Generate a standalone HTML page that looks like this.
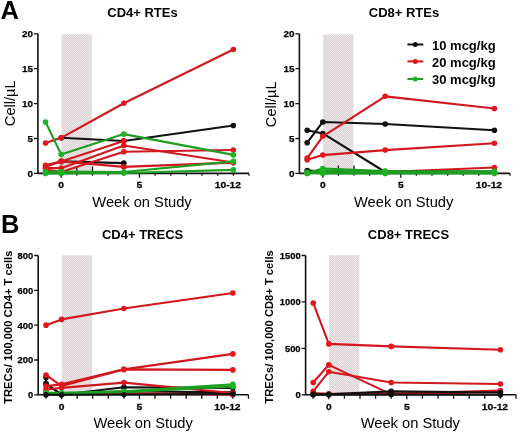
<!DOCTYPE html><html><head><meta charset="utf-8"><style>html,body{margin:0;padding:0;background:#fff;}svg{display:block;will-change:transform;}</style></head><body>
<svg width="520" height="434" viewBox="0 0 520 434" font-family='"Liberation Sans", sans-serif'>
<style>polyline{fill:none;stroke-width:2.1;stroke-linejoin:round}.r{stroke:#d0181e;marker:url(#mr)}.g{stroke:#1c9f20;marker:url(#mg)}.k{stroke:#111111;marker:url(#mk)}.yt,.xt{font-weight:bold;stroke:#000;stroke-width:.25px}.yt{text-anchor:end}.xt{text-anchor:middle;font-size:9.9px}</style>
<defs><marker id="mr" markerUnits="userSpaceOnUse" viewBox="-3 -3 6 6" refX="0" refY="0" markerWidth="6" markerHeight="6" overflow="visible"><circle r="2.8" fill="#e3161d"/></marker><marker id="mg" markerUnits="userSpaceOnUse" viewBox="-3 -3 6 6" refX="0" refY="0" markerWidth="6" markerHeight="6" overflow="visible"><circle r="2.8" fill="#1db322"/></marker><marker id="mk" markerUnits="userSpaceOnUse" viewBox="-3 -3 6 6" refX="0" refY="0" markerWidth="6" markerHeight="6" overflow="visible"><circle r="2.8" fill="#111111"/></marker></defs>
<defs><pattern id="chk" width="2" height="2" patternUnits="userSpaceOnUse"><rect width="2" height="2" fill="#dcd3d5"/><rect width="1" height="1" fill="#ebe6e7"/><rect x="1" y="1" width="1" height="1" fill="#ebe6e7"/></pattern></defs>
<rect width="520" height="434" fill="#fff"/>
<text x="0.5" y="18.8" font-size="25.5" font-weight="bold">A</text>
<text x="1" y="232.8" font-size="25.5" font-weight="bold">B</text>
<text x="142.5" y="17" text-anchor="middle" font-size="13" font-weight="bold">CD4+ RTEs</text>
<text x="404" y="17.3" text-anchor="middle" font-size="13" font-weight="bold">CD8+ RTEs</text>
<text x="142.6" y="238.7" text-anchor="middle" font-size="13" font-weight="bold">CD4+ TRECS</text>
<text x="408.5" y="238.5" text-anchor="middle" font-size="13" font-weight="bold">CD8+ TRECS</text>
<text x="142" y="207" text-anchor="middle" font-size="14.7">Week on Study</text>
<text x="403.7" y="207" text-anchor="middle" font-size="14.7">Week on Study</text>
<text x="143.2" y="427.6" text-anchor="middle" font-size="14.7">Week on Study</text>
<text x="410.3" y="427.5" text-anchor="middle" font-size="14.7">Week on Study</text>
<text transform="translate(14.6,103.3) rotate(-90)" text-anchor="middle" font-size="14.6">Cell/µL</text>
<text transform="translate(276.3,104.3) rotate(-90)" text-anchor="middle" font-size="14.6">Cell/µL</text>
<text transform="translate(12,327.2) rotate(-90)" text-anchor="middle" font-size="11.2" font-weight="bold">TRECs/ 100,000 CD4+ T cells</text>
<text transform="translate(273,326.9) rotate(-90)" text-anchor="middle" font-size="11.2" font-weight="bold">TRECs/ 100,000 CD8+ T cells</text>
<rect x="61.5" y="34.2" width="30.4" height="139.2" fill="url(#chk)"/>
<path d="M37.9,33.8V173.4H249" fill="none" stroke="#111" stroke-width="1.6"/>
<path d="M33.9,173.4H37.9 M33.9,138.5H37.9 M33.9,103.6H37.9 M33.9,68.7H37.9 M33.9,33.8H37.9 M45.55,173.4V175.8 M61.2,173.4V177.7 M76.85,173.4V175.8 M92.5,173.4V175.8 M108.15,173.4V175.8 M123.8,173.4V175.8 M139.45,173.4V177.7 M155.1,173.4V175.8 M170.75,173.4V175.8 M186.4,173.4V175.8 M202.05,173.4V175.8 M217.7,173.4V175.8 M233.35,173.4V175.8 M249,173.4V175.8" stroke="#111" stroke-width="1.3"/>
<path d="M76.85,166.6V173.4M92.5,166.6V173.4" stroke="#111" stroke-width="1.3"/>
<polyline class="k" points="61.2,137.8 123.8,140.94 233.35,125.45"/>
<polyline class="k" points="61.2,161.39 123.8,163.14"/>
<polyline class="r" points="45.55,143.04 61.2,137.8 123.8,103.25 233.35,49.5"/>
<polyline class="r" points="45.55,165.37 61.2,161.39 123.8,166.91 233.35,162.58"/>
<polyline class="r" points="45.55,166.77 61.2,161.39 123.8,140.94"/>
<polyline class="r" points="45.55,168.16 61.2,168.16 123.8,145.48 233.35,162.58"/>
<polyline class="r" points="45.55,169.56 61.2,172 123.8,151.76 233.35,150.02"/>
<polyline class="g" points="45.55,121.96 61.2,154.41 123.8,134.1 233.35,154.9"/>
<polyline class="g" points="45.55,171.66 61.2,171.66 123.8,172 233.35,161.39"/>
<polyline class="g" points="45.55,173.4 61.2,173.4 123.8,173.05 233.35,169.91"/>
<text class="yt" x="32.9" y="176.96" font-size="9.9">0</text>
<text class="yt" x="32.9" y="142.06" font-size="9.9">5</text>
<text class="yt" x="32.9" y="107.16" font-size="9.9">10</text>
<text class="yt" x="32.9" y="72.26" font-size="9.9">15</text>
<text class="yt" x="32.9" y="37.36" font-size="9.9">20</text>
<text class="xt" transform="translate(61.2,188.2) scale(1.04,1)">0</text>
<text class="xt" transform="translate(139.45,188.2) scale(1.04,1)">5</text>
<text class="xt" transform="translate(227.87,188.2) scale(1.04,1)">10-12</text>
<rect x="323.1" y="34.5" width="30.3" height="138.9" fill="url(#chk)"/>
<path d="M299.4,33.8V173.4H510" fill="none" stroke="#111" stroke-width="1.6"/>
<path d="M295.4,173.4H299.4 M295.4,138.5H299.4 M295.4,103.6H299.4 M295.4,68.7H299.4 M295.4,33.8H299.4 M307.2,173.4V175.8 M322.8,173.4V177.7 M338.4,173.4V175.8 M354,173.4V175.8 M369.6,173.4V175.8 M385.2,173.4V175.8 M400.8,173.4V177.7 M416.4,173.4V175.8 M432,173.4V175.8 M447.6,173.4V175.8 M463.2,173.4V175.8 M478.8,173.4V175.8 M494.4,173.4V175.8 M510,173.4V175.8" stroke="#111" stroke-width="1.3"/>
<path d="M338.4,165.5V173.4M354,165.5V173.4" stroke="#111" stroke-width="1.3"/>
<polyline class="k" points="307.2,142.69 322.8,121.96 385.2,123.98 494.4,130.26"/>
<polyline class="k" points="307.2,130.33 322.8,133.47 385.2,172"/>
<polyline class="r" points="307.2,158.04 322.8,136.27 385.2,96.34 494.4,108.49"/>
<polyline class="r" points="307.2,159.79 322.8,155.11 385.2,150.09 494.4,143.25"/>
<polyline class="r" points="307.2,172.7 322.8,172.35 385.2,172 494.4,167.47"/>
<polyline class="k" points="307.2,170.47 322.8,171.31 385.2,171.66 494.4,171.66"/>
<polyline class="g" points="307.2,173.05 322.8,168.51 385.2,170.96 494.4,171.31"/>
<polyline class="g" points="307.2,172.7 322.8,170.26 385.2,172 494.4,172"/>
<polyline class="g" points="307.2,173.4 322.8,172 385.2,172.7 494.4,172.7"/>
<polyline class="g" points="307.2,172.35 322.8,173.4 385.2,173.4 494.4,173.4"/>
<text class="yt" x="294.4" y="176.96" font-size="9.9">0</text>
<text class="yt" x="294.4" y="142.06" font-size="9.9">5</text>
<text class="yt" x="294.4" y="107.16" font-size="9.9">10</text>
<text class="yt" x="294.4" y="72.26" font-size="9.9">15</text>
<text class="yt" x="294.4" y="37.36" font-size="9.9">20</text>
<text class="xt" transform="translate(322.8,188.2) scale(1.04,1)">0</text>
<text class="xt" transform="translate(400.8,188.2) scale(1.04,1)">5</text>
<text class="xt" transform="translate(488.94,188.2) scale(1.04,1)">10-12</text>
<rect x="61.9" y="255.3" width="30.24" height="139.5" fill="url(#chk)"/>
<path d="M38.2,255.5V394.8H248.5" fill="none" stroke="#111" stroke-width="1.6"/>
<path d="M34.2,394.8H38.2 M34.2,359.98H38.2 M34.2,325.15H38.2 M34.2,290.33H38.2 M34.2,255.5H38.2 M46.03,394.8V398.8 M61.6,394.8V399.2 M77.17,394.8V398.8 M92.74,394.8V398.8 M108.31,394.8V398.8 M123.88,394.8V398.8 M139.45,394.8V399.2 M155.02,394.8V398.8 M170.59,394.8V398.8 M186.16,394.8V398.8 M201.73,394.8V398.8 M217.3,394.8V398.8 M232.87,394.8V398.8 M248.44,394.8V398.8" stroke="#111" stroke-width="1.3"/>
<polyline class="k" points="46.03,377.39 46.03,383.48 61.6,394.8 123.88,387.31 232.87,387.84"/>
<polyline class="k" points="46.03,384.35 61.6,394.1 123.88,391.32 232.87,392.36"/>
<polyline class="r" points="46.03,325.15 61.6,319.4 123.88,308.43 232.87,292.94"/>
<polyline class="r" points="46.03,374.95 61.6,386.09 123.88,369.38 232.87,353.88"/>
<polyline class="r" points="46.03,386.09 61.6,384.35 123.88,369.38 232.87,369.9"/>
<polyline class="r" points="46.03,389.58 61.6,387.84 123.88,382.61 232.87,393.06"/>
<polyline class="r" points="46.03,393.06 61.6,393.93 123.88,393.06 232.87,394.8"/>
<polyline class="g" points="46.03,392.71 61.6,392.71 123.88,391.32 232.87,384.35"/>
<polyline class="g" points="46.03,393.41 61.6,393.41 123.88,392.19 232.87,386.44"/>
<polyline class="k" points="46.03,394.8 61.6,394.8 123.88,394.45 232.87,393.93"/>
<text class="yt" x="33.2" y="398.18" font-size="9.4">0</text>
<text class="yt" x="33.2" y="363.36" font-size="9.4">200</text>
<text class="yt" x="33.2" y="328.53" font-size="9.4">400</text>
<text class="yt" x="33.2" y="293.71" font-size="9.4">600</text>
<text class="yt" x="33.2" y="258.88" font-size="9.4">800</text>
<text class="xt" transform="translate(61.6,409.8) scale(1.04,1)">0</text>
<text class="xt" transform="translate(139.45,409.8) scale(1.04,1)">5</text>
<text class="xt" transform="translate(227.42,409.8) scale(1.04,1)">10-12</text>
<rect x="329.1" y="255.1" width="30.3" height="139.7" fill="url(#chk)"/>
<path d="M305.6,255.5V394.8H516" fill="none" stroke="#111" stroke-width="1.6"/>
<path d="M301.6,394.8H305.6 M301.6,348.37H305.6 M301.6,301.93H305.6 M301.6,255.5H305.6 M313.2,394.8V398.8 M328.8,394.8V399.2 M344.4,394.8V398.8 M360,394.8V398.8 M375.6,394.8V398.8 M391.2,394.8V398.8 M406.8,394.8V399.2 M422.4,394.8V398.8 M438,394.8V398.8 M453.6,394.8V398.8 M469.2,394.8V398.8 M484.8,394.8V398.8 M500.4,394.8V398.8 M516,394.8V398.8" stroke="#111" stroke-width="1.3"/>
<polyline class="r" points="313.2,302.95 328.8,343.91 391.2,346.42 500.4,349.76"/>
<polyline class="r" points="313.2,382.54 328.8,364.9 391.2,394.34 500.4,392.01"/>
<polyline class="r" points="313.2,391.36 328.8,371.68 391.2,382.54 500.4,383.93"/>
<polyline class="r" points="313.2,392.94 328.8,393.87 391.2,393.87 500.4,390.62"/>
<polyline class="k" points="313.2,394.24 328.8,394.24 391.2,391.36 500.4,392.48"/>
<polyline class="k" points="313.2,394.8 328.8,394.8 391.2,394.43 500.4,394.8"/>
<text class="yt" x="300.6" y="398.18" font-size="9.4">0</text>
<text class="yt" x="300.6" y="351.75" font-size="9.4">500</text>
<text class="yt" x="300.6" y="305.32" font-size="9.4">1000</text>
<text class="yt" x="300.6" y="258.88" font-size="9.4">1500</text>
<text class="xt" transform="translate(328.8,409.8) scale(1.04,1)">0</text>
<text class="xt" transform="translate(406.8,409.8) scale(1.04,1)">5</text>
<text class="xt" transform="translate(494.94,409.8) scale(1.04,1)">10-12</text>
<line x1="407.4" y1="44.5" x2="423.3" y2="44.5" stroke="#111111" stroke-width="2"/>
<circle cx="415.3" cy="44.5" r="2.5" fill="#111111"/>
<text x="432" y="49.8" font-size="13" font-weight="bold">10 mcg/kg</text>
<line x1="407.4" y1="61.4" x2="423.3" y2="61.4" stroke="#d0181e" stroke-width="2"/>
<circle cx="415.3" cy="61.4" r="2.5" fill="#e3161d"/>
<text x="432" y="66.7" font-size="13" font-weight="bold">20 mcg/kg</text>
<line x1="407.4" y1="79" x2="423.3" y2="79" stroke="#1c9f20" stroke-width="2"/>
<circle cx="415.3" cy="79" r="2.5" fill="#1db322"/>
<text x="432" y="84.3" font-size="13" font-weight="bold">30 mcg/kg</text>
</svg></body></html>
